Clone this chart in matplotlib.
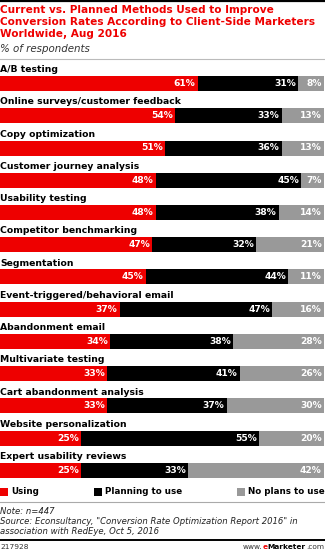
import matplotlib
matplotlib.use("Agg")
import matplotlib.pyplot as plt
from matplotlib.patches import Rectangle
from matplotlib.lines import Line2D

W, H = 325, 552

methods = ["A/B testing", "Online surveys/customer feedback", "Copy optimization",
           "Customer journey analysis", "Usability testing", "Competitor benchmarking",
           "Segmentation", "Event-triggered/behavioral email", "Abandonment email",
           "Multivariate testing", "Cart abandonment analysis", "Website personalization",
           "Expert usability reviews"]
using = [61, 54, 51, 48, 48, 47, 45, 37, 34, 33, 33, 25, 25]
planning = [31, 33, 36, 45, 38, 32, 44, 47, 38, 41, 37, 55, 33]
no_plans = [8, 13, 13, 7, 14, 21, 11, 16, 28, 26, 30, 20, 42]
series_names = ["Using", "Planning to use", "No plans to use"]
colors = ["#ee0000", "#000000", "#999999"]

fig = plt.figure(figsize=(W / 100, H / 100), dpi=100)

def fy(py):
    return 1 - py / H

def fx(px):
    return px / W

# rules
fig.add_artist(Line2D([0, 1], [fy(1), fy(1)], color="black", lw=1.6))
fig.add_artist(Line2D([0, 1], [fy(59), fy(59)], color="#bbbbbb", lw=0.8))
fig.add_artist(Line2D([0, 1], [fy(502), fy(502)], color="#aaaaaa", lw=0.8))
fig.add_artist(Line2D([0, 1], [fy(540), fy(540)], color="black", lw=1.4))

title = ["Current vs. Planned Methods Used to Improve",
         "Conversion Rates According to Client-Side Marketers",
         "Worldwide, Aug 2016"]
for i, t in enumerate(title):
    fig.text(0, fy(10 + 12 * i), t, color="#ee0000", fontsize=7.6, fontweight="bold",
             va="center", ha="left")
fig.text(0, fy(49), "% of respondents", fontsize=7.4, style="italic", color="#333333",
         va="center")

# bar area
n = len(methods)
step = 32.25
c0 = 83.5
top = c0 - 0.9 * step
bot = c0 + (n - 0.5) * step
ax = fig.add_axes([0, fy(bot), fx(324), (bot - top) / H])
ax.set_xlim(0, 100)
ax.set_ylim(n - 0.5, -0.9)
ax.axis("off")

bh = 15 / step
lefts = [0] * n
for vals, col in zip([using, planning, no_plans], colors):
    ax.barh(range(n), vals, left=lefts, height=bh, color=col, edgecolor="none")
    for i, v in enumerate(vals):
        ax.text(lefts[i] + v - 0.7, i, f"{v}%", color="white", fontsize=6.6,
                fontweight="bold", ha="right", va="center")
    lefts = [l + v for l, v in zip(lefts, vals)]

for i, m in enumerate(methods):
    ax.text(0, i - bh / 2 - 0.2, m, fontsize=6.7, fontweight="bold", ha="left",
            va="center", color="black")

# legend
leg_x = [0, 94, 237]
for x, name, col in zip(leg_x, series_names, colors):
    fig.add_artist(Rectangle((fx(x), fy(496)), fx(8), 8 / H, color=col, lw=0))
    fig.text(fx(x + 11), fy(492), name, fontsize=6.3, fontweight="bold", va="center")

notes = ["Note: n=447",
         "Source: Econsultancy, \"Conversion Rate Optimization Report 2016\" in",
         "association with RedEye, Oct 5, 2016"]
for i, t in enumerate(notes):
    fig.text(0, fy(512 + 10 * i), t, fontsize=6.1, style="italic", color="#222222",
             va="center")

fig.text(0, fy(547), "217928", fontsize=5.4, color="#333333", va="center")

# www.eMarketer.com, pieced together from the right
pieces = [(".com", "normal", "#333333"), ("Marketer", "bold", "black"),
          ("e", "bold", "#ee0000"), ("www.", "normal", "#333333")]
fig.canvas.draw()
r = fig.canvas.get_renderer()
x = 324
for txt, wgt, col in pieces:
    t = fig.text(fx(x), fy(547), txt, fontsize=5.3, fontweight=wgt, color=col,
                 ha="right", va="center")
    x -= t.get_window_extent(r).width

fig.savefig("out.png", dpi=100)
